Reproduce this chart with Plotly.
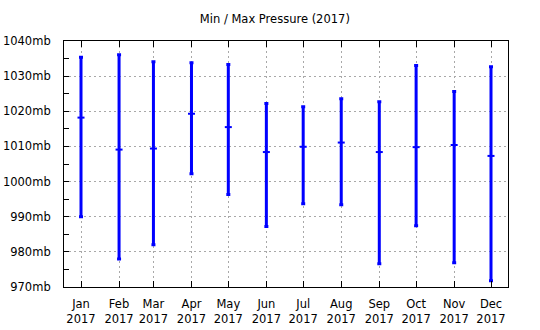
import plotly.graph_objects as go

months = ["2017-01-01", "2017-02-01", "2017-03-01", "2017-04-01", "2017-05-01", "2017-06-01",
          "2017-07-01", "2017-08-01", "2017-09-01", "2017-10-01", "2017-11-01", "2017-12-01"]
month_labels = ["Jan<br>2017", "Feb<br>2017", "Mar<br>2017", "Apr<br>2017", "May<br>2017", "Jun<br>2017",
                "Jul<br>2017", "Aug<br>2017", "Sep<br>2017", "Oct<br>2017", "Nov<br>2017", "Dec<br>2017"]
p_max = [1035.4, 1036.1, 1034.1, 1033.8, 1033.3, 1022.2, 1021.3, 1023.6, 1022.7, 1033.0, 1025.6, 1032.7]
p_avg = [1018.2, 1009.1, 1009.4, 1019.3, 1015.5, 1008.4, 1009.9, 1011.1, 1008.4, 1009.8, 1010.4, 1007.3]
p_min = [990.0, 978.0, 982.0, 1002.2, 996.3, 987.2, 993.7, 993.4, 976.6, 987.4, 976.9, 971.8]
y_ticks = [970, 980, 990, 1000, 1010, 1020, 1030, 1040]
y_labels = [f"{v}mb" for v in y_ticks]

blue = "#0000ff"
font = dict(family="DejaVu Sans", size=11.5, color="#000000")

fig = go.Figure()
fig.add_trace(go.Scatter(
    x=months, y=p_avg, mode="markers",
    marker=dict(symbol="line-ew", size=5, color=blue, line=dict(color=blue, width=2)),
    error_y=dict(type="data", symmetric=False,
                 array=[a - b for a, b in zip(p_max, p_avg)],
                 arrayminus=[b - c for b, c in zip(p_avg, p_min)],
                 color=blue, thickness=3, width=2),
    showlegend=False, hoverinfo="skip",
))

grid_color = "#a8a8a8"
fig.update_layout(
    width=540, height=330,
    margin=dict(l=64, r=32, t=41, b=43, autoexpand=False),
    paper_bgcolor="white", plot_bgcolor="white",
    font=font,
    title=dict(text="Min / Max Pressure (2017)", x=0.509, xref="container", xanchor="center",
               y=1 - 19 / 330, yref="container", yanchor="middle", font=font),
    xaxis=dict(
        type="date", range=["2016-12-18 03:36", "2017-12-14 20:24"],
        tickvals=months, ticktext=month_labels,
        ticks="inside", ticklen=6, tickcolor="black", tickwidth=1,
        showline=True, linecolor="black", linewidth=1, mirror="ticks",
        showgrid=True, gridcolor=grid_color, griddash="2px,3px", gridwidth=1,
        tickfont=font, zeroline=False, ticklabelstandoff=6, automargin=False,
    ),
    yaxis=dict(
        range=[970, 1040], tickvals=y_ticks, ticktext=y_labels,
        ticks="inside", ticklen=5, tickcolor="black", tickwidth=1,
        minor=dict(dtick=5, tick0=970, ticks="inside", ticklen=5, tickcolor="black", showgrid=False),
        showline=True, linecolor="black", linewidth=1, mirror=True,
        showgrid=True, gridcolor=grid_color, griddash="2px,3px", gridwidth=1,
        tickfont=font, zeroline=False, ticklabelstandoff=10, automargin=False,
    ),
)

fig.write_html("out.html")
